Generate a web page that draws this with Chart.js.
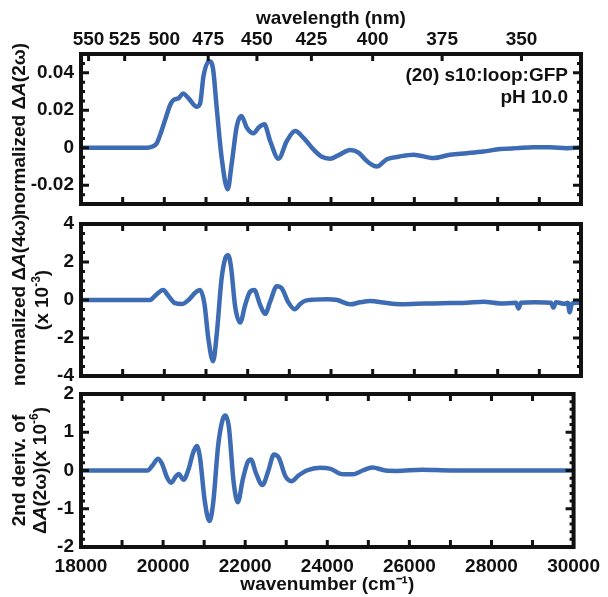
<!DOCTYPE html>
<html>
<head>
<meta charset="utf-8">
<script src="https://cdn.jsdelivr.net/npm/chart.js@4.4.1/dist/chart.umd.min.js"></script>
<style>
  html, body { margin: 0; padding: 0; background: #fff; }
  #wrap { position: relative; width: 608px; height: 597px; }
  #wrap canvas { position: absolute; left: 0; top: 0; }
</style>
</head>
<body>
<div id="wrap">
  <canvas id="panel2w" width="608" height="597"></canvas>
  <canvas id="panel4w" width="608" height="597"></canvas>
  <canvas id="panelDeriv" width="608" height="597"></canvas>
</div>
<script>
// top panel: normalized dA(2w)
const wn2w = [18000, 19000, 19600, 19700, 19820, 19900, 20020, 20140, 20220, 20340, 20450, 20580, 20780, 20860, 20940, 21080, 21170, 21260, 21380, 21520, 21620, 21740, 21850, 21980, 22140, 22260, 22400, 22540, 22740, 22940, 23140, 23340, 23580, 23780, 23980, 24220, 24460, 24660, 24860, 25100, 25340, 25620, 25980, 26460, 26860, 27260, 27660, 28060, 28460, 28860, 29260, 29660, 30000];
const dA2w = [0, 0, 0, 0.0005, 0.0024, 0.0069, 0.0149, 0.0228, 0.0255, 0.0264, 0.0290, 0.0264, 0.0219, 0.0237, 0.0382, 0.0462, 0.0419, 0.0205, -0.0061, -0.0221, -0.0079, 0.0116, 0.0169, 0.0107, 0.0077, 0.0107, 0.0125, 0.0036, -0.0058, 0.0036, 0.0089, 0.0053, -0.0009, -0.0048, -0.0058, -0.0035, -0.0012, -0.0026, -0.0071, -0.0100, -0.0061, -0.0048, -0.0037, -0.0055, -0.0037, -0.0029, -0.0020, -0.0007, -0.0002, 0.0003, 0.0003, -0.0002, 0.0001];

// middle panel: normalized dA(4w), x 10^-3
const wn4w = [18000, 19000, 19660, 19740, 19860, 19970, 20100, 20260, 20420, 20580, 20740, 20860, 20960, 21060, 21170, 21260, 21370, 21460, 21530, 21600, 21700, 21820, 21940, 22060, 22160, 22300, 22420, 22540, 22700, 22820, 22980, 23130, 23260, 23380, 23600, 23900, 24150, 24460, 24700, 24940, 25300, 25660, 26060, 26460, 26860, 27260, 27660, 28060, 28440, 28500, 28560, 28900, 29280, 29340, 29400, 29600, 29680, 29730, 29780, 29900, 30000];
const dA4w = [0, 0, 0, 0.14, 0.38, 0.52, 0.21, -0.17, -0.21, 0, 0.38, 0.52, -0.17, -2.09, -3.23, -1.75, 1.05, 2.18, 2.36, 1.75, -0.35, -1.19, -0.26, 0.44, 0.52, -0.26, -0.73, -0.09, 0.73, 0.61, -0.14, -0.49, -0.21, -0.04, 0.02, 0.04, 0.0, -0.23, -0.12, -0.05, -0.15, -0.22, -0.2, -0.18, -0.16, -0.14, -0.09, -0.18, -0.15, -0.45, -0.15, -0.12, -0.15, -0.4, -0.12, -0.2, -0.15, -0.65, -0.2, -0.15, -0.12];

// bottom panel: 2nd derivative of dA(2w), x 10^-6
const wnDeriv = [18000, 19000, 19620, 19740, 19880, 19980, 20100, 20200, 20300, 20380, 20500, 20620, 20730, 20820, 20900, 21010, 21130, 21220, 21340, 21450, 21520, 21600, 21720, 21820, 21940, 22060, 22140, 22260, 22420, 22560, 22700, 22820, 22980, 23130, 23300, 23500, 23820, 24060, 24380, 24620, 24860, 25100, 25420, 25700, 26300, 27000, 28000, 29000, 30000];
const deriv2w = [0, 0, 0, 0.13, 0.31, 0.16, -0.19, -0.32, -0.17, -0.09, -0.24, 0.03, 0.46, 0.64, 0.33, -0.76, -1.32, -0.85, 0.64, 1.33, 1.44, 1.16, -0.32, -0.83, -0.24, 0.22, 0.29, -0.06, -0.38, -0.02, 0.42, 0.33, -0.15, -0.28, -0.13, 0, 0.07, 0.05, -0.1, -0.1, 0, 0.08, 0, -0.01, 0.02, 0, 0, 0, 0];

// axis ticks
const wavelengthTicks = [550, 525, 500, 475, 450, 425, 400, 375, 350];
const wavenumberLabels = [18000, 20000, 22000, 24000, 26000, 28000, 30000];
const wavenumberTicks = [19000, 20000, 21000, 22000, 23000, 24000, 25000, 26000, 27000, 28000, 29000];
const yTicks2w = [-0.02, 0, 0.02, 0.04];
const yTicks4w = [-4, -2, 0, 2, 4];
const yTicksDeriv = [-2, -1, 0, 1, 2];

const LINE = '#3d6cb4';
const INK = '#111111';
const FONT = '"Liberation Sans", Arial, sans-serif';
const SIZE = 19;

Chart.defaults.font.family = FONT;
Chart.defaults.font.weight = 'bold';
Chart.defaults.font.size = SIZE;
Chart.defaults.color = INK;

function minorTicks(min, max, step, majors) {
  const out = [];
  const n = Math.round((max - min) / step);
  for (let i = 1; i < n; i++) {
    const v = +(min + i * step).toFixed(6);
    if (!majors.some(m => Math.abs(m - v) < step / 10)) out.push(v);
  }
  return out;
}

function drawRotated(ctx, segs, cx, cy) {
  const fontFor = s => `${s.italic ? 'italic ' : ''}bold ${s.sup ? Math.round(SIZE * 0.62) : SIZE}px ${FONT}`;
  ctx.save();
  ctx.translate(cx, cy);
  ctx.rotate(-Math.PI / 2);
  ctx.textBaseline = 'middle';
  ctx.textAlign = 'left';
  ctx.fillStyle = INK;
  const widths = segs.map(s => { ctx.font = fontFor(s); return ctx.measureText(s.t).width; });
  let x = -widths.reduce((a, b) => a + b, 0) / 2;
  segs.forEach((s, i) => {
    ctx.font = fontFor(s);
    ctx.fillText(s.t, x, s.sup ? -SIZE * 0.35 : 0);
    x += widths[i];
  });
  ctx.restore();
}

// inward ticks + frame, drawn from the chart's own scales
function framePlugin(spec) {
  return {
    id: 'panelFrame',
    afterDatasetsDraw(chart) {
      const {ctx, chartArea: a} = chart;
      const xs = chart.scales.x, ys = chart.scales.y;
      ctx.save();
      ctx.strokeStyle = INK;
      ctx.lineWidth = 3;
      ctx.beginPath();
      spec.bottomTicks.forEach(v => {
        const p = xs.getPixelForValue(v);
        ctx.moveTo(p, a.bottom); ctx.lineTo(p, a.bottom - 7);
      });
      spec.topTicks.forEach(v => {
        const p = xs.getPixelForValue(v);
        ctx.moveTo(p, a.top); ctx.lineTo(p, a.top + 7);
      });
      const yTick = (v, len) => {
        const p = ys.getPixelForValue(v);
        ctx.moveTo(a.left, p); ctx.lineTo(a.left + len, p);
        ctx.moveTo(a.right, p); ctx.lineTo(a.right - len, p);
      };
      spec.yMajor.forEach(v => yTick(v, 8));
      spec.yMinor.forEach(v => yTick(v, 4));
      ctx.stroke();
      ctx.lineWidth = 4;
      ctx.strokeRect(a.left, a.top, a.right - a.left, a.bottom - a.top);
      ctx.restore();
    }
  };
}

function textPlugin(spec) {
  return {
    id: 'panelText',
    afterDraw(chart) {
      const {ctx, chartArea: a} = chart;
      const cy = (a.top + a.bottom) / 2;
      spec.lines.forEach(l => drawRotated(ctx, l.segs, l.x, cy));
      ctx.save();
      ctx.font = `bold ${SIZE}px ${FONT}`;
      ctx.fillStyle = INK;
      ctx.textAlign = 'right';
      ctx.textBaseline = 'middle';
      (spec.notes || []).forEach(n => ctx.fillText(n.t, n.x, n.y));
      ctx.restore();
    }
  };
}

function yScale(min, max, ticks, fmt) {
  return {
    type: 'linear', position: 'left', min, max,
    afterBuildTicks: s => { s.ticks = ticks.map(v => ({value: v})); },
    afterFit: s => { s.width = 81; },
    grid: {display: false, drawTicks: false},
    border: {display: false},
    ticks: {padding: 7, callback: fmt}
  };
}

function hiddenX() {
  return {type: 'linear', min: 18000, max: 30000, display: false};
}

function makePanel(id, xs, ys, cfg) {
  return new Chart(document.getElementById(id), {
    type: 'line',
    data: {
      datasets: [{
        data: xs.map((x, i) => ({x, y: ys[i]})),
        borderColor: LINE,
        borderWidth: 4.5,
        pointRadius: 0,
        cubicInterpolationMode: 'monotone',
        borderCapStyle: 'round',
        borderJoinStyle: 'round'
      }]
    },
    options: {
      responsive: false,
      animation: false,
      events: [],
      layout: {padding: cfg.padding},
      plugins: {legend: {display: false}, tooltip: {enabled: false}},
      scales: cfg.scales
    },
    plugins: [framePlugin(cfg.frame), textPlugin(cfg.text)]
  });
}

// top: dA(2w) with wavelength axis
makePanel('panel2w', wn2w, dA2w, {
  padding: {top: 0, right: 27, bottom: 393, left: 0},
  scales: {
    x: hiddenX(),
    xTop: {
      type: 'linear', position: 'top', min: 18000, max: 30000,
      afterBuildTicks: s => { s.ticks = wavelengthTicks.map(nm => ({value: 1e7 / nm})); },
      afterFit: s => { s.height = 54; },
      grid: {display: false, drawTicks: false},
      border: {display: false},
      ticks: {padding: 3, autoSkip: false, maxRotation: 0, callback: v => String(Math.round(1e7 / v))},
      title: {display: true, text: 'wavelength (nm)', padding: {top: 7, bottom: 0}}
    },
    y: yScale(-0.03, 0.05, yTicks2w, v => v === 0 ? '0' : v.toFixed(2))
  },
  frame: {
    bottomTicks: wavenumberTicks,
    topTicks: wavelengthTicks.map(nm => 1e7 / nm),
    yMajor: yTicks2w,
    yMinor: minorTicks(-0.03, 0.05, 0.005, yTicks2w)
  },
  text: {
    lines: [{x: 20, segs: [{t: 'normalized Δ'}, {t: 'A', italic: true}, {t: '(2ω)'}]}],
    notes: [{t: '(20) s10:loop:GFP', x: 568, y: 76}, {t: 'pH 10.0', x: 568, y: 98}]
  }
});

// middle: dA(4w)
makePanel('panel4w', wn4w, dA4w, {
  padding: {top: 224, right: 27, bottom: 221, left: 0},
  scales: {
    x: hiddenX(),
    y: yScale(-4, 4, yTicks4w, v => String(v))
  },
  frame: {
    bottomTicks: wavenumberTicks,
    topTicks: wavenumberTicks,
    yMajor: yTicks4w,
    yMinor: minorTicks(-4, 4, 0.5, yTicks4w)
  },
  text: {
    lines: [
      {x: 20, segs: [{t: 'normalized Δ'}, {t: 'A', italic: true}, {t: '(4ω)'}]},
      {x: 43, segs: [{t: '(x 10'}, {t: '-3', sup: true}, {t: ')'}]}
    ]
  }
});

// bottom: 2nd derivative, with wavenumber axis
makePanel('panelDeriv', wnDeriv, deriv2w, {
  padding: {top: 394, right: 27, bottom: 0, left: 0},
  scales: {
    x: {
      type: 'linear', position: 'bottom', min: 18000, max: 30000,
      afterBuildTicks: s => { s.ticks = wavenumberLabels.map(v => ({value: v})); },
      afterFit: s => { s.height = 50; },
      grid: {display: false, drawTicks: false},
      border: {display: false},
      ticks: {padding: 8, autoSkip: false, maxRotation: 0, callback: v => String(v)},
      title: {display: true, text: 'wavenumber (cm⁻¹)', padding: {top: 0, bottom: 1}}
    },
    y: yScale(-2, 2, yTicksDeriv, v => String(v))
  },
  frame: {
    bottomTicks: wavenumberTicks,
    topTicks: wavenumberTicks,
    yMajor: yTicksDeriv,
    yMinor: minorTicks(-2, 2, 0.2, yTicksDeriv)
  },
  text: {
    lines: [
      {x: 20, segs: [{t: '2nd deriv. of'}]},
      {x: 41, segs: [{t: 'Δ'}, {t: 'A', italic: true}, {t: '(2ω)(x 10'}, {t: '-6', sup: true}, {t: ')'}]}
    ]
  }
});
</script>
</body>
</html>
